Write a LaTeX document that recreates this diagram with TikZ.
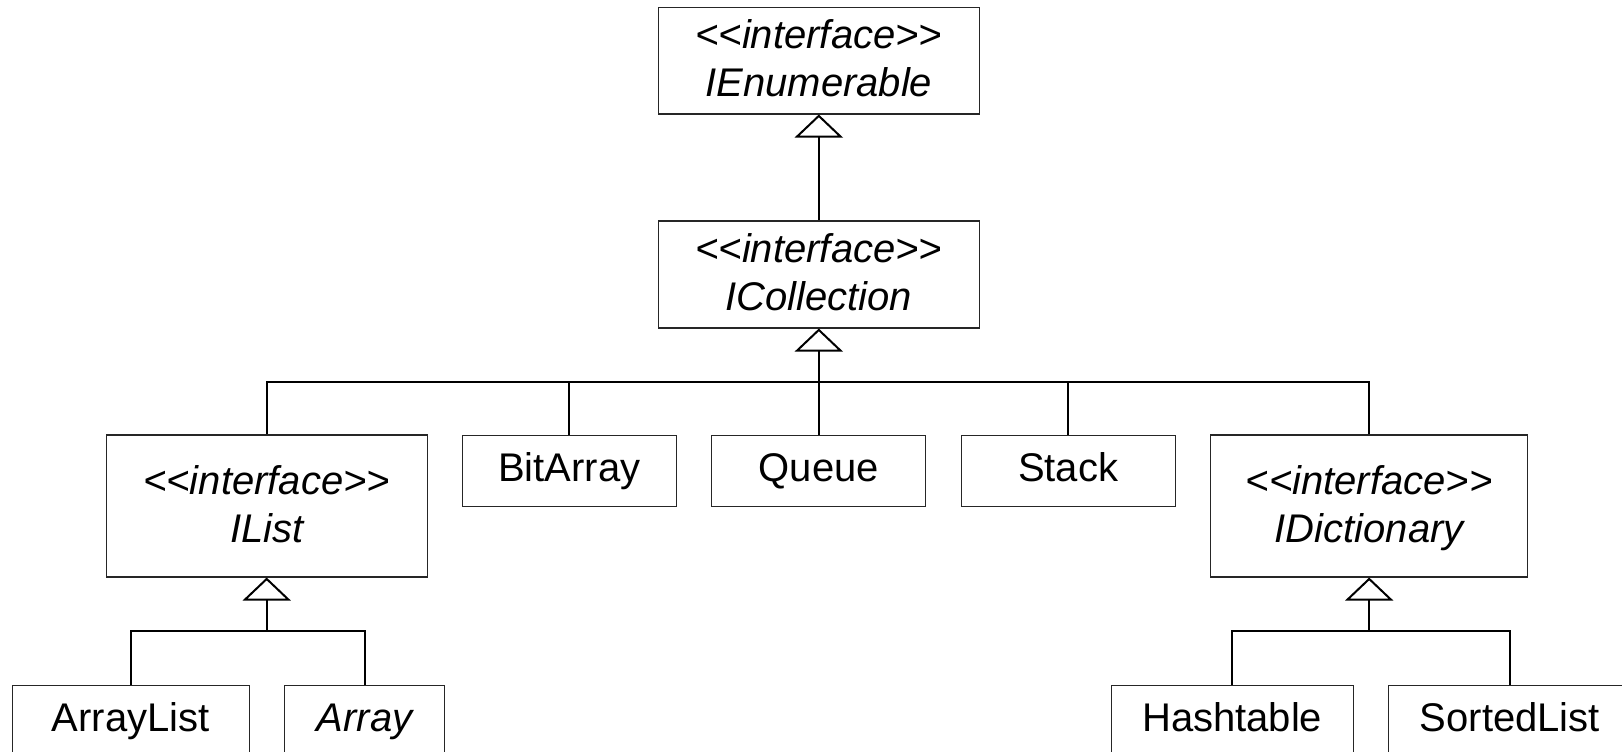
\documentclass[tikz,border=0pt]{standalone}
\usepackage{fontspec}
\setmainfont{Liberation Sans}
\usetikzlibrary{arrows.meta}
\newcommand{\stereo}{<\kern0pt<interface>\kern0pt>}
\begin{document}
\begin{tikzpicture}[x=1pt,y=-1pt,
  box/.style={draw=black!85,line width=1.1pt,inner sep=0pt,fill=white},
  txt/.style={inner sep=0pt,anchor=base,font=\fontsize{40}{48}\selectfont},
  itxt/.style={txt,font=\fontsize{40}{48}\selectfont\itshape},
  conn/.style={draw=black,line width=2pt},
  inh/.style={conn,-{Triangle[open,width=48pt,length=23pt,line width=2pt]}}]
\useasboundingbox (0,0) rectangle (1622,752);
\clip (0,0) rectangle (1622,752);
% boxes
\node[box,minimum width=320.5pt,minimum height=106.7pt] (IEnumerable) at (818.8,60.6) {};
\node[box,minimum width=320.5pt,minimum height=107pt] (ICollection) at (818.8,274.5) {};
\node[box,minimum width=320.8pt,minimum height=142pt] (IList) at (266.7,506) {};
\node[box,minimum width=214.4pt,minimum height=71.7pt] (BitArray) at (569.4,470.9) {};
\node[box,minimum width=214.2pt,minimum height=71.7pt] (Queue) at (818.8,470.9) {};
\node[box,minimum width=214.3pt,minimum height=71.7pt] (Stack) at (1068.2,470.9) {};
\node[box,minimum width=317pt,minimum height=142pt] (IDictionary) at (1369.2,506) {};
\node[box,minimum width=236.7pt,minimum height=71.7pt] (ArrayList) at (130.7,720.9) {};
\node[box,minimum width=160.4pt,minimum height=71.7pt] (Array) at (364.5,720.9) {};
\node[box,minimum width=242.3pt,minimum height=71.7pt] (Hashtable) at (1232.2,720.9) {};
\node[box,minimum width=242.3pt,minimum height=71.7pt] (SortedList) at (1509.8,720.9) {};
% texts
\node[itxt] (IEnumerable-s) at (818.8,48.3) {\stereo};
\node[itxt] (IEnumerable-n) at (818.8,96.8) {IEnumerable};
\node[itxt] (ICollection-s) at (818.8,262.3) {\stereo};
\node[itxt] (ICollection-n) at (818.8,310.8) {ICollection};
\node[itxt] (IList-s) at (266.7,494) {\stereo};
\node[itxt] (IList-n) at (266.7,542.5) {IList};
\node[itxt] (IDictionary-s) at (1369.2,494) {\stereo};
\node[itxt] (IDictionary-n) at (1369.2,542.5) {IDictionary};
\node[txt] (BitArray-t) at (569.4,481.7) {BitArray};
\node[txt] (Queue-t) at (818.8,481.7) {Queue};
\node[txt] (Stack-t) at (1068.2,481.7) {Stack};
\node[txt] (ArrayList-t) at (130.7,731.7) {ArrayList};
\node[itxt] (Array-t) at (364.5,731.7) {Array};
\node[txt] (Hashtable-t) at (1232.2,731.7) {Hashtable};
\node[txt] (SortedList-t) at (1509.8,731.7) {SortedList};
% bus points
\coordinate (busC) at (818.8,381.5);
\coordinate (busL) at (266.7,631);
\coordinate (busD) at (1369.2,631);
% connectors
\draw[inh] (ICollection.north) -- (IEnumerable.south);
\draw[inh] (busC) -- (ICollection.south);
\draw[conn] (IList.north) |- (busC);
\draw[conn] (BitArray.north) |- (busC);
\draw[conn] (Queue.north) -- (busC);
\draw[conn] (Stack.north) |- (busC);
\draw[conn] (IDictionary.north) |- (busC);
\draw[inh] (busL) -- (IList.south);
\draw[conn] (ArrayList.north) |- (busL);
\draw[conn] (Array.north) |- (busL);
\draw[inh] (busD) -- (IDictionary.south);
\draw[conn] (Hashtable.north) |- (busD);
\draw[conn] (SortedList.north) |- (busD);
\end{tikzpicture}
\end{document}
